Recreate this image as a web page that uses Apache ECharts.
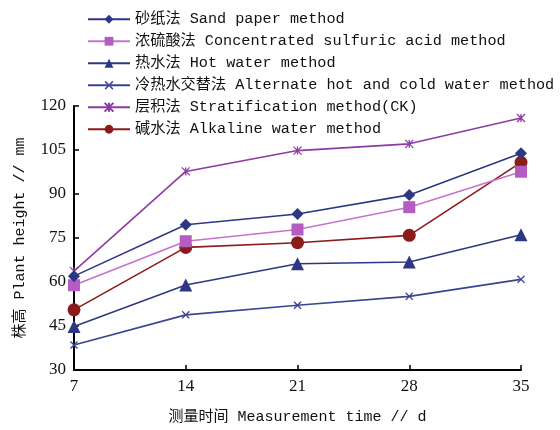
<!DOCTYPE html>
<html>
<head>
<meta charset="utf-8">
<script src="https://cdn.jsdelivr.net/npm/echarts@6/dist/echarts.min.js"></script>
<style>html,body{margin:0;padding:0;background:#fff}#c{width:560px;height:430px}</style>
</head>
<body>
<div id="c"></div>
<script>
var days = [7, 14, 21, 28, 35];
var yTicks = [30, 45, 60, 75, 90, 105, 120];
var seriesNames = [
  '砂纸法 Sand paper method',
  '浓硫酸法 Concentrated sulfuric acid method',
  '热水法 Hot water method',
  '冷热水交替法 Alternate hot and cold water method',
  '层积法 Stratification method(CK)',
  '碱水法 Alkaline water method'
];
var sandPaper = [62.0, 79.5, 83.2, 89.7, 103.9];
var sulfuric = [58.9, 73.9, 77.9, 85.5, 97.6];
var hotWater = [44.8, 59.0, 66.2, 66.8, 76.1];
var alternate = [38.5, 48.8, 52.1, 55.1, 60.9];
var stratification = [63.7, 97.7, 104.8, 107.1, 115.9];
var alkaline = [50.5, 71.8, 73.4, 75.9, 100.8];

var values = [sandPaper, sulfuric, hotWater, alternate, stratification, alkaline];
var colors = ['#2e3784', '#b45cbf', '#2e3784', '#3a4592', '#8e3aa6', '#8b1c1c'];
var lineColors = ['#2e3784', '#c474cc', '#2e3784', '#3a4592', '#8e3aa6', '#8b1c1c'];
var xPath = 'path://M0,1.2L1.2,0L5,3.8L8.8,0L10,1.2L6.2,5L10,8.8L8.8,10L5,6.2L1.2,10L0,8.8L3.8,5Z';
var starPath = 'path://M0,0L10,10M10,0L0,10M5,0L5,10';
var symbols = ['diamond', 'rect', 'triangle', xPath, starPath, 'circle'];
var sizes = [12, 12, 13, 8, 8, 13];

var mono = '"Liberation Mono", "Noto Sans CJK SC", monospace';
var serif = '"Liberation Serif", serif';

var series = seriesNames.map(function (n, i) {
  var isStar = i === 4;
  return {
    name: n,
    type: 'line',
    data: days.map(function (d, j) { return [d, values[i][j]]; }),
    symbol: symbols[i],
    symbolSize: sizes[i],
    showAllSymbol: true,
    lineStyle: { color: lineColors[i], width: 1.6 },
    itemStyle: isStar
      ? { color: 'rgba(0,0,0,0)', borderColor: colors[i], borderWidth: 1.3 }
      : { color: colors[i], borderWidth: 0 },
    emphasis: { disabled: true },
    z: 10 - i
  };
});

var chart = echarts.init(document.getElementById('c'));
chart.setOption({
  animation: false,
  backgroundColor: '#ffffff',
  legend: {
    orient: 'vertical',
    left: 82,
    top: 6,
    itemWidth: 42,
    itemHeight: 11,
    itemGap: 5.5,
    data: seriesNames,
    textStyle: { fontFamily: mono, fontSize: 15.2, color: '#111', lineHeight: 16.5 }
  },
  grid: { left: 74, right: 39, top: 106, bottom: 59, containLabel: false },
  xAxis: {
    type: 'value',
    min: 7, max: 35, interval: 7,
    name: '测量时间 Measurement time // d',
    nameLocation: 'middle',
    nameGap: 40,
    nameTextStyle: { fontFamily: mono, fontSize: 15, color: '#111' },
    axisLine: { lineStyle: { color: '#000', width: 2 } },
    axisTick: { inside: true, length: 5, lineStyle: { color: '#000', width: 1.5 } },
    axisLabel: { fontFamily: serif, fontSize: 17, color: '#111', margin: 8 },
    splitLine: { show: false }
  },
  yAxis: {
    type: 'value',
    min: yTicks[0], max: yTicks[yTicks.length - 1], interval: 15,
    name: '株高 Plant height // mm',
    nameLocation: 'middle',
    nameGap: 46,
    nameTextStyle: { fontFamily: mono, fontSize: 15, color: '#111' },
    axisLine: { show: true, lineStyle: { color: '#000', width: 2 } },
    axisTick: { inside: true, length: 5, lineStyle: { color: '#000', width: 1.5 } },
    axisLabel: { fontFamily: serif, fontSize: 17, color: '#111', margin: 8 },
    splitLine: { show: false }
  },
  series: series
});
</script>
</body>
</html>
